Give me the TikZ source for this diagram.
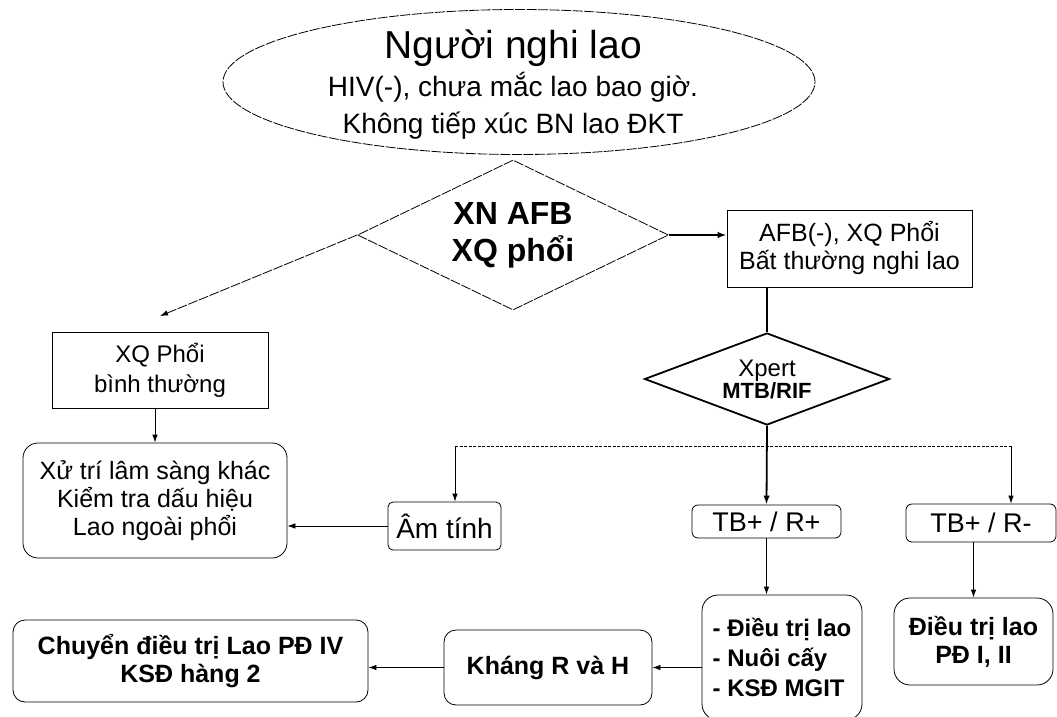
\documentclass[tikz,border=0pt]{standalone}
\usepackage{fontspec}
\setmainfont{Liberation Sans}
\usetikzlibrary{shapes.geometric,arrows.meta,calc}
\begin{document}
\begin{tikzpicture}[x=1pt,y=-1pt,
  box/.style={draw, line width=0.8pt, inner sep=2pt, align=center},
  scanline/.style={line width=0.8pt, dash pattern=on 10pt off 1.5pt},
  dotline/.style={line width=0.8pt, dash pattern=on 3pt off 1.5pt},
  arr/.style={-{Latex[length=8pt,width=5.5pt]}, line width=0.8pt},
  thickarr/.style={-{Latex[length=9pt,width=6.5pt]}, line width=1.8pt},
  thickline/.style={line width=1.8pt},
  txtn/.style={font=\fontsize{25}{28}\selectfont},
  txtb/.style={font=\fontsize{25}{28}\selectfont\bfseries},
]
\useasboundingbox (0,0) rectangle (1057,717);

% top ellipse
\node[ellipse, draw, scanline, minimum width=592pt, minimum height=145pt, inner sep=0pt] (start) at (519,82) {};
\node[align=center, font=\fontsize{28}{37.5}\selectfont] (starttxt) at (513,85)
  {{\fontsize{39}{37.5}\selectfont Người nghi lao}\\HIV(-), chưa mắc lao bao giờ.\\Không tiếp xúc BN lao ĐKT};

% first decision
\node[diamond, aspect=2, draw, scanline, minimum width=311pt, minimum height=150pt, inner sep=0pt,
      align=center, font=\fontsize{32}{37}\selectfont\bfseries] (d1) at (513,235) {XN AFB\\XQ phổi};

% right branch box
\node[box, txtn, minimum width=245pt, minimum height=77pt] (afb) at (849.5,248.5)
  {AFB(-), XQ Phổi\\Bất thường nghi lao};

% Xpert decision
\node[diamond, aspect=2.6, draw, line width=1.8pt, minimum width=245pt, minimum height=92pt, inner sep=0pt,
      align=center, font=\fontsize{24}{22}\selectfont] (xp) at (767,379)
  {Xpert\\{\fontsize{22}{22}\selectfont\bfseries MTB/RIF}};

% left branch
\node[box, font=\fontsize{24}{30}\selectfont, minimum width=216pt, minimum height=76pt] (xq) at (160,370)
  {XQ Phổi\\bình thường};
\node[box, txtn, rounded corners=15pt, minimum width=264pt, minimum height=115pt] (xu) at (155,500.5)
  {Xử trí lâm sàng khác\\Kiểm tra dấu hiệu\\Lao ngoài phổi};

% results
\node[box, font=\fontsize{28}{30}\selectfont, rounded corners=5pt, minimum width=113pt, minimum height=48pt] (am) at (444.5,526) {Âm tính};
\node[box, font=\fontsize{27}{30}\selectfont, rounded corners=6pt, inner sep=1pt, minimum width=149pt, minimum height=33pt] (tbp) at (766.5,521.5) {TB+ / R+};
\node[box, font=\fontsize{27}{30}\selectfont, rounded corners=6pt, inner sep=1pt, minimum width=150pt, minimum height=38pt] (tbm) at (981,523) {TB+ / R-};

% bottom row
\node[box, align=left, font=\fontsize{24}{30}\selectfont\bfseries, rounded corners=16pt, minimum width=160pt, minimum height=125pt] (dt) at (782,657.5)
  {- Điều trị lao\\- Nuôi cấy\\- KSĐ MGIT};
\node[box, txtb, rounded corners=16pt, minimum width=159pt, minimum height=87pt] (pd) at (973.5,641.5)
  {Điều trị lao\\PĐ I, II};
\node[box, txtb, rounded corners=12pt, minimum width=208pt, minimum height=75pt] (kh) at (548,667.5)
  {Kháng R và H};
\node[box, txtb, rounded corners=12pt, minimum width=355pt, minimum height=82pt] (ch) at (190.5,661)
  {Chuyển điều trị Lao PĐ IV\\KSĐ hàng 2};

% connectors
\coordinate (xqin) at (160,316);
\draw[arr, scanline] (d1.west) -- (xqin);
\draw[thickarr] (d1.east) -- (d1.east -| afb.west);
\draw[thickline] (afb.south -| xp.north) -- (xp.north);
\draw[thickarr] (xp.south) -- (tbp.north);
\coordinate (hl) at (455,446);
\coordinate (hr) at (1011,446);
\draw[dotline] (hl) -- (hr);
\draw[arr] (hl) -- (hl |- am.north);
\draw[arr] (hr) -- (hr |- tbm.north);
\draw[arr] (am.west) -- (am.west -| xu.east);
\draw[arr] (xq.south -| xu.north) -- (xu.north);
\draw[arr] (tbp.south) -- (tbp.south |- dt.north);
\draw[arr] (tbm.south -| pd.north) -- (pd.north);
\draw[arr] (kh.east -| dt.west) -- (kh.east);
\draw[arr] (kh.west) -- (kh.west -| ch.east);
\end{tikzpicture}
\end{document}
